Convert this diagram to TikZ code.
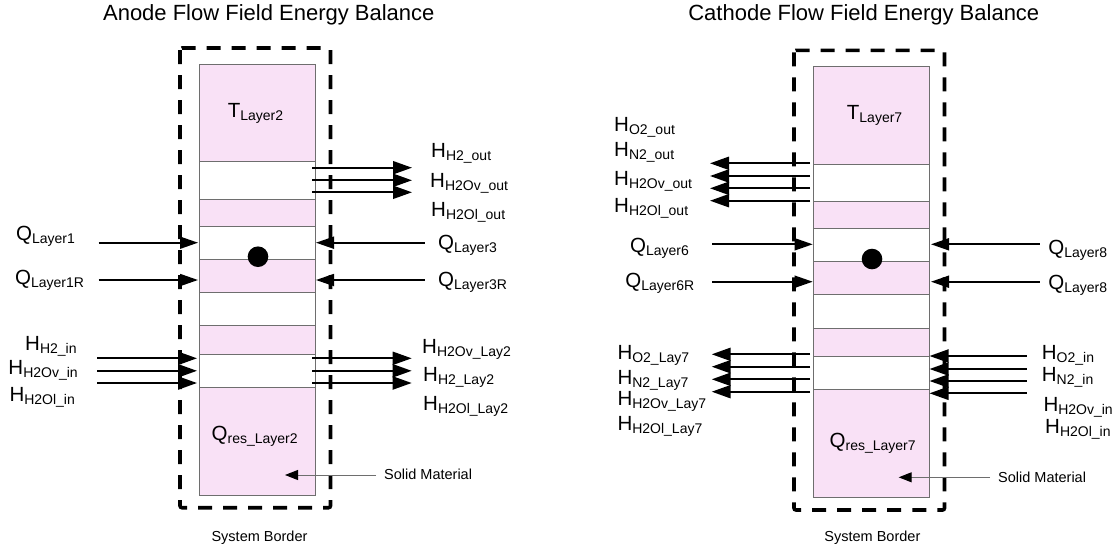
\documentclass[tikz,border=0pt]{standalone}
\usepackage{fontspec}
\setmainfont{Liberation Sans}
\usetikzlibrary{arrows.meta}
\definecolor{layerpink}{HTML}{F9E1F6}
\definecolor{bandgray}{HTML}{6E6E6E}
\newcommand{\fluxlbl}[2]{#1\raisebox{-3pt}{\fontsize{14}{14}\selectfont #2}}

\begin{document}
\begin{tikzpicture}[x=1pt, y=-1pt,
  band/.style={draw=bandgray, line width=0.9pt},
  border/.style={line width=3.6pt, dash pattern=on 14pt off 11pt, rounded corners=2pt},
  flow/.style={line width=2pt, -{Triangle[length=19pt, width=13pt]}},
  heat/.style={line width=1.8pt, -{Triangle[length=18pt, width=12pt]}},
  pointer/.style={draw=bandgray, line width=1pt, -{Triangle[length=13pt, width=10pt, color=black]}},
  lbl/.style={anchor=base west, inner sep=0pt, font=\fontsize{20.5}{20.5}\selectfont},
  note/.style={inner sep=0pt, font=\fontsize{14.5}{14.5}\selectfont},
  heading/.style={anchor=base, inner sep=0pt, font=\fontsize{22}{22}\selectfont}]
  \useasboundingbox (0,0) rectangle (1119,550);

  % Both columns: layers, system border, dot
  \foreach \dx/\dy in {0/0, 614/2.3} {
    \begin{scope}[shift={(\dx,\dy)}]
      \foreach \t/\b/\c in {64.3/161.7/layerpink, 161.7/199/white, 199/226/layerpink,
                            226/259/white, 259/292.3/layerpink, 292.3/325.7/white,
                            325.7/354.3/layerpink, 354.3/387.5/white, 387.5/495/layerpink}
        \draw[band, fill=\c] (199,\t) rectangle (315,\b);
      \draw[border] (180,48) rectangle (330.5,507.7);
      \fill (258,256.7) circle (10.3);
    \end{scope}
  }

  % Anode side
  \node[heading] (titleA) at (268.8,20.7) {Anode Flow Field Energy Balance};
  \node[lbl] (tLayA) at (227.6,117.3) {\fluxlbl{T}{Layer2}};
  \node[lbl] (qResA) at (211.5,440) {\fluxlbl{Q}{res\_Layer2}};

  \node[lbl] (hH2out) at (431,157.7) {\fluxlbl{H}{H2\_out}};
  \node[lbl] (hH2Ovout) at (430,187.3) {\fluxlbl{H}{H2Ov\_out}};
  \node[lbl] (hH2Olout) at (431,216) {\fluxlbl{H}{H2Ol\_out}};
  \foreach \y [count=\i] in {167.7,180.3,192.3} {
    \coordinate (aOutS\i) at (312,\y);
    \coordinate (aOutE\i) at (412,\y);
    \draw[flow] (aOutS\i) -- (aOutE\i);
  }

  \node[lbl] (qL1) at (16,240.5) {\fluxlbl{Q}{Layer1}};
  \node[lbl] (qL1R) at (15,284) {\fluxlbl{Q}{Layer1R}};
  \node[lbl] (qL3) at (438,249) {\fluxlbl{Q}{Layer3}};
  \node[lbl] (qL3R) at (438,286) {\fluxlbl{Q}{Layer3R}};
  \foreach \y [count=\i] in {242.7,280} {
    \coordinate (aQlS\i) at (98.6,\y);
    \coordinate (aQlE\i) at (198,\y);
    \coordinate (aQrS\i) at (424.7,\y);
    \coordinate (aQrE\i) at (316,\y);
    \draw[heat] (aQlS\i) -- (aQlE\i);
    \draw[heat] (aQrS\i) -- (aQrE\i);
  }

  \node[lbl] (hH2in) at (25,350) {\fluxlbl{H}{H2\_in}};
  \node[lbl] (hH2Ovin) at (8.3,374.3) {\fluxlbl{H}{H2Ov\_in}};
  \node[lbl] (hH2Olin) at (9.3,401.7) {\fluxlbl{H}{H2Ol\_in}};
  \node[lbl] (hH2OvLay) at (422,353.3) {\fluxlbl{H}{H2Ov\_Lay2}};
  \node[lbl] (hH2Lay) at (423,381.7) {\fluxlbl{H}{H2\_Lay2}};
  \node[lbl] (hH2OlLay) at (423,410) {\fluxlbl{H}{H2Ol\_Lay2}};
  \foreach \y [count=\i] in {358.3,370.8,383} {
    \coordinate (aInS\i) at (97.3,\y);
    \coordinate (aInE\i) at (197,\y);
    \coordinate (aLayS\i) at (312.3,\y);
    \coordinate (aLayE\i) at (411.7,\y);
    \draw[flow] (aInS\i) -- (aInE\i);
    \draw[flow] (aLayS\i) -- (aLayE\i);
  }

  \node[note, anchor=base west] (solidA) at (384,479.3) {Solid Material};
  \coordinate (solidAS) at (376,475);
  \coordinate (solidAE) at (285,475);
  \draw[pointer] (solidAS) -- (solidAE);
  \node[note, anchor=base] (borderA) at (259.5,541.5) {System Border};

  % Cathode side
  \node[heading] (titleC) at (863.8,20.7) {Cathode Flow Field Energy Balance};
  \node[lbl] (tLayC) at (846.7,119) {\fluxlbl{T}{Layer7}};
  \node[lbl] (qResC) at (829.5,447.5) {\fluxlbl{Q}{res\_Layer7}};

  \node[lbl] (hO2out) at (614,131.7) {\fluxlbl{H}{O2\_out}};
  \node[lbl] (hN2out) at (614,156.7) {\fluxlbl{H}{N2\_out}};
  \node[lbl] (hH2Ovoutc) at (614,185) {\fluxlbl{H}{H2Ov\_out}};
  \node[lbl] (hH2Oloutc) at (614,212.3) {\fluxlbl{H}{H2Ol\_out}};
  \foreach \y [count=\i] in {163.3,176,188.3,200.7} {
    \coordinate (cOutS\i) at (810,\y);
    \coordinate (cOutE\i) at (710,\y);
    \draw[flow] (cOutS\i) -- (cOutE\i);
  }

  \node[lbl] (qL6) at (629.9,252.5) {\fluxlbl{Q}{Layer6}};
  \node[lbl] (qL6R) at (625.2,287.5) {\fluxlbl{Q}{Layer6R}};
  \node[lbl] (qL8) at (1048.2,254) {\fluxlbl{Q}{Layer8}};
  \node[lbl] (qL8b) at (1048.2,289) {\fluxlbl{Q}{Layer8}};
  \foreach \y [count=\i] in {244.3,281.7} {
    \coordinate (cQlS\i) at (712.3,\y);
    \coordinate (cQlE\i) at (812.7,\y);
    \coordinate (cQrS\i) at (1039.6,\y);
    \coordinate (cQrE\i) at (931,\y);
    \draw[heat] (cQlS\i) -- (cQlE\i);
    \draw[heat] (cQrS\i) -- (cQrE\i);
  }

  \node[lbl] (hO2Lay) at (617.3,359.3) {\fluxlbl{H}{O2\_Lay7}};
  \node[lbl] (hN2Lay) at (617.3,384.3) {\fluxlbl{H}{N2\_Lay7}};
  \node[lbl] (hH2OvLayc) at (617.3,405) {\fluxlbl{H}{H2Ov\_Lay7}};
  \node[lbl] (hH2OlLayc) at (617.3,430) {\fluxlbl{H}{H2Ol\_Lay7}};
  \foreach \y [count=\i] in {354.3,366.7,379.3,391.7} {
    \coordinate (cLayS\i) at (810,\y);
    \coordinate (cLayE\i) at (711.7,\y);
    \draw[flow] (cLayS\i) -- (cLayE\i);
  }

  \node[lbl] (hO2in) at (1041.7,359.3) {\fluxlbl{H}{O2\_in}};
  \node[lbl] (hN2in) at (1041.7,381.7) {\fluxlbl{H}{N2\_in}};
  \node[lbl] (hH2Ovinc) at (1043.3,411) {\fluxlbl{H}{H2Ov\_in}};
  \node[lbl] (hH2Olinc) at (1045,433.3) {\fluxlbl{H}{H2Ol\_in}};
  \foreach \y [count=\i] in {356,369,381,393.3} {
    \coordinate (cInS\i) at (1026.7,\y);
    \coordinate (cInE\i) at (929.5,\y);
    \draw[flow] (cInS\i) -- (cInE\i);
  }

  \node[note, anchor=base west] (solidC) at (998,482.5) {Solid Material};
  \coordinate (solidCS) at (990,477.3);
  \coordinate (solidCE) at (898.7,477.3);
  \draw[pointer] (solidCS) -- (solidCE);
  \node[note, anchor=base] (borderC) at (872.4,541.5) {System Border};
\end{tikzpicture}
\end{document}
